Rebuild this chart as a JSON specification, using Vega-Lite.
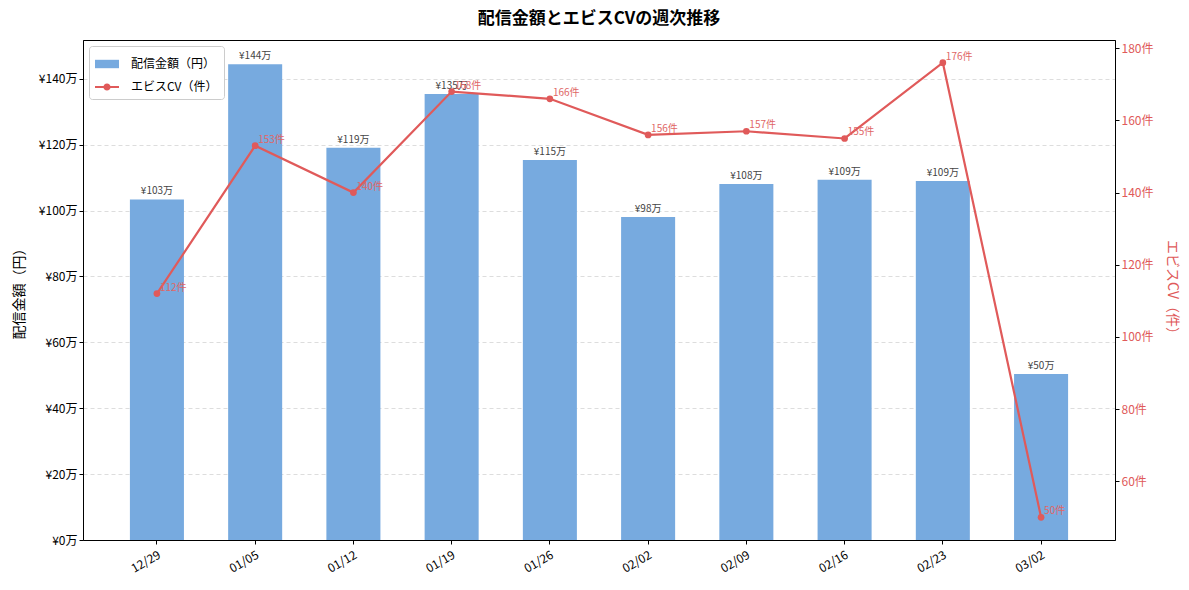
{
  "$schema": "https://vega.github.io/schema/vega-lite/v6.json",
  "autosize": "none",
  "width": 1032,
  "height": 500,
  "padding": {"left": 83, "top": 40, "right": 74, "bottom": 50},
  "title": {
    "text": "配信金額とエビスCVの週次推移",
    "fontSize": 17,
    "fontWeight": "bold",
    "color": "#000",
    "offset": 12
  },
  "data": {
    "values": [
      {"week": "12/29", "amount": 103.4, "cv": 112},
      {"week": "01/05", "amount": 144.4, "cv": 153},
      {"week": "01/12", "amount": 119.1, "cv": 140},
      {"week": "01/19", "amount": 135.4, "cv": 168},
      {"week": "01/26", "amount": 115.4, "cv": 166},
      {"week": "02/02", "amount": 98.1, "cv": 156},
      {"week": "02/09", "amount": 108.1, "cv": 157},
      {"week": "02/16", "amount": 109.4, "cv": 155},
      {"week": "02/23", "amount": 109.0, "cv": 176},
      {"week": "03/02", "amount": 50.4, "cv": 50}
    ]
  },
  "transform": [
    {"calculate": "'¥' + format(datum.amount, '.0f') + '万'", "as": "amount_label"},
    {"calculate": "datum.cv + '件'", "as": "cv_label"}
  ],
  "encoding": {
    "x": {
      "field": "week",
      "type": "ordinal",
      "sort": null,
      "title": null,
      "scale": {"paddingInner": 0.45, "paddingOuter": 0.4775},
      "axis": {
        "labelAngle": -30,
        "labelAlign": "right",
        "labelBaseline": "top",
        "labelFontSize": 12,
        "labelColor": "#000",
        "domainColor": "#000",
        "tickColor": "#000",
        "tickSize": 4,
        "labelPadding": 5
      }
    }
  },
  "layer": [
    {
      "encoding": {
        "y": {
          "field": "amount",
          "type": "quantitative",
          "scale": {"domain": [0, 151.8], "nice": false},
          "axis": {
            "title": "配信金額（円）",
            "titleFontSize": 14,
            "titleFontWeight": "normal",
            "titleColor": "#000",
            "titlePadding": 12,
            "values": [0, 20, 40, 60, 80, 100, 120, 140],
            "labelExpr": "'¥' + datum.value + '万'",
            "labelFontSize": 12,
            "labelColor": "#000",
            "domainColor": "#000",
            "tickColor": "#000",
            "tickSize": 4,
            "grid": true,
            "gridColor": "#dddddd",
            "gridDash": [4, 3]
          }
        }
      },
      "layer": [
        {
          "mark": {"type": "bar", "color": "#77aadf"},
          "encoding": {
            "color": {
              "datum": "配信金額（円）",
              "type": "nominal",
              "scale": {
                "domain": ["配信金額（円）", "エビスCV（件）"],
                "range": ["#77aadf", "#e05a5a"]
              },
              "legend": {
                "title": null,
                "orient": "top-left",
                "offset": 6,
                "padding": 6,
                "strokeColor": "#cccccc",
                "fillColor": "#ffffff",
                "cornerRadius": 3,
                "labelFontSize": 12,
                "labelColor": "#000",
                "labelOffset": 12,
                "rowPadding": 5,
                "symbolSize": 576,
                "encode": {
                  "symbols": {
                    "update": {
                      "shape": {"signal": "datum.value == '配信金額（円）' ? 'M-1,-0.35L1,-0.35L1,0.35L-1,0.35Z' : 'M-1,-0.08L1,-0.08L1,0.08L-1,0.08Z M-0.3,0A0.3,0.3 0 1,1 0.3,0A0.3,0.3 0 1,1 -0.3,0Z'"},
                      "fill": {"signal": "datum.value == '配信金額（円）' ? '#77aadf' : '#e05a5a'"},
                      "strokeWidth": {"value": 0},
                      "opacity": {"value": 1},
                      "fillOpacity": {"value": 1}
                    }
                  }
                }
              }
            }
          }
        },
        {
          "mark": {"type": "text", "baseline": "bottom", "dy": -3, "fontSize": 10, "color": "#444444"},
          "encoding": {
            "text": {"field": "amount_label", "type": "nominal"},
            "y": {"field": "amount", "type": "quantitative"}
          }
        }
      ]
    },
    {
      "encoding": {
        "y": {
          "field": "cv",
          "type": "quantitative",
          "scale": {"domain": [43.7, 182.3], "nice": false, "zero": false},
          "axis": {
            "orient": "right",
            "title": "エビスCV（件）",
            "titleFontSize": 14,
            "titleFontWeight": "normal",
            "titleColor": "#e05a5a",
            "titlePadding": 12,
            "values": [60, 80, 100, 120, 140, 160, 180],
            "labelExpr": "datum.value + '件'",
            "labelFontSize": 12,
            "labelColor": "#e05a5a",
            "domainColor": "#000",
            "tickColor": "#000",
            "tickSize": 4,
            "grid": false
          }
        }
      },
      "layer": [
        {
          "mark": {"type": "line", "strokeWidth": 2.2, "point": {"size": 45, "filled": true, "color": "#e05a5a"}},
          "encoding": {
            "color": {"datum": "エビスCV（件）", "type": "nominal"}
          }
        },
        {
          "mark": {"type": "text", "align": "left", "baseline": "middle", "dx": 3, "dy": -6, "fontSize": 10, "color": "#e06666"},
          "encoding": {
            "text": {"field": "cv_label", "type": "nominal"}
          }
        }
      ]
    }
  ],
  "resolve": {"scale": {"y": "independent"}, "axis": {"y": "independent"}},
  "config": {
    "font": "Noto Sans CJK JP",
    "view": {"stroke": "#000", "strokeWidth": 1},
    "axis": {"labelFont": "Noto Sans CJK JP", "titleFont": "Noto Sans CJK JP"}
  }
}
